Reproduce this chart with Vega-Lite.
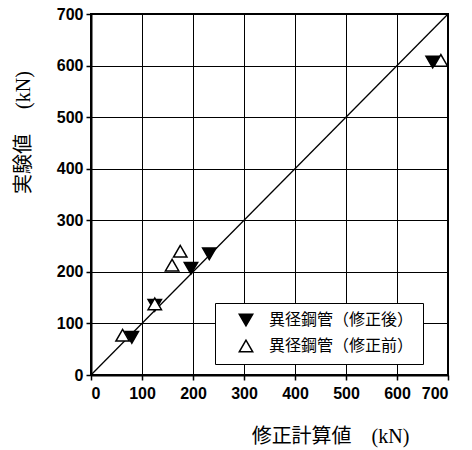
{
  "$schema": "https://vega.github.io/schema/vega-lite/v6.json",
  "width": 357,
  "height": 361,
  "autosize": {"type": "none"},
  "padding": {"left": 91, "top": 14, "right": 24, "bottom": 75},
  "background": "white",
  "config": {
    "view": {"stroke": "black", "strokeWidth": 2},
    "font": "Liberation Sans"
  },
  "datasets": {
    "pts": [
      {"calc": 80, "exp": 73, "series": "異径鋼管（修正後）"},
      {"calc": 125, "exp": 135, "series": "異径鋼管（修正後）"},
      {"calc": 196, "exp": 207, "series": "異径鋼管（修正後）"},
      {"calc": 232, "exp": 235, "series": "異径鋼管（修正後）"},
      {"calc": 670, "exp": 607, "series": "異径鋼管（修正後）"},
      {"calc": 62, "exp": 77, "series": "異径鋼管（修正前）"},
      {"calc": 125, "exp": 138, "series": "異径鋼管（修正前）"},
      {"calc": 159, "exp": 213, "series": "異径鋼管（修正前）"},
      {"calc": 175, "exp": 240, "series": "異径鋼管（修正前）"},
      {"calc": 686, "exp": 610, "series": "異径鋼管（修正前）"}
    ],
    "diag": [
      {"calc": 0, "exp": 0},
      {"calc": 700, "exp": 700}
    ]
  },
  "layer": [
    {
      "data": {"name": "diag"},
      "mark": {"type": "line", "color": "black", "strokeWidth": 1.3, "clip": true},
      "encoding": {
        "x": {
          "field": "calc", "type": "quantitative",
          "scale": {"domain": [0, 700], "nice": false},
          "axis": {
            "values": [0, 50, 100, 150, 200, 250, 300, 350, 400, 450, 500, 550, 600, 650, 700],
            "labelExpr": "datum.value % 100 == 0 ? datum.label : ''",
            "grid": true,
            "gridColor": {"condition": {"test": "datum.value % 100 != 0", "value": "transparent"}, "value": "black"},
            "gridWidth": 1,
            "gridOpacity": 1,
            "domainColor": "black",
            "domainWidth": 2,
            "tickColor": "black",
            "tickWidth": 1.5,
            "tickSize": {"condition": {"test": "datum.value % 100 != 0", "value": 3}, "value": 5},
            "labelFont": "Liberation Sans",
            "labelFontSize": 16,
            "labelFontWeight": "bold",
            "labelColor": "black",
            "labelPadding": 5,
            "title": "修正計算値　(kN)",
            "titleFont": "Liberation Serif, Noto Sans CJK JP",
            "titleFontSize": 20,
            "titleFontWeight": "normal",
            "titleColor": "black",
            "titleX": 239,
            "titleY": 51,
            "titleBaseline": "top",
            "titleAlign": "center"
          }
        },
        "y": {
          "field": "exp", "type": "quantitative",
          "scale": {"domain": [0, 700], "nice": false},
          "axis": {
            "values": [0, 50, 100, 150, 200, 250, 300, 350, 400, 450, 500, 550, 600, 650, 700],
            "labelExpr": "datum.value % 100 == 0 ? datum.label : ''",
            "grid": true,
            "gridColor": {"condition": {"test": "datum.value % 100 != 0", "value": "transparent"}, "value": "black"},
            "gridWidth": 1,
            "gridOpacity": 1,
            "domainColor": "black",
            "domainWidth": 2,
            "tickColor": "black",
            "tickWidth": 1.5,
            "tickSize": {"condition": {"test": "datum.value % 100 != 0", "value": 3}, "value": 5},
            "labelFont": "Liberation Sans",
            "labelFontSize": 16,
            "labelFontWeight": "bold",
            "labelColor": "black",
            "labelPadding": 3,
            "title": "実験値　 (kN)",
            "titleFont": "Liberation Serif, Noto Sans CJK JP",
            "titleFontSize": 20,
            "titleFontWeight": "normal",
            "titleColor": "black",
            "titleX": -68,
            "titleY": 118,
            "titleAngle": -90,
            "titleBaseline": "middle",
            "titleAlign": "center"
          }
        }
      }
    },
    {
      "data": {"name": "pts"},
      "mark": {"type": "point", "filled": false, "color": "black", "size": 180, "strokeWidth": 1.5, "opacity": 1},
      "encoding": {
        "x": {"field": "calc", "type": "quantitative"},
        "y": {"field": "exp", "type": "quantitative"},
        "shape": {
          "field": "series", "type": "nominal",
          "scale": {"domain": ["異径鋼管（修正後）", "異径鋼管（修正前）"], "range": ["triangle-down", "triangle-up"]},
          "legend": {
            "title": null,
            "orient": "none",
            "legendX": 124,
            "legendY": 289,
            "fillColor": "white",
            "strokeColor": "black",
            "padding": 9,
            "rowPadding": 8,
            "symbolSize": 180,
            "symbolStrokeWidth": 1.5,
            "symbolOffset": 14,
            "labelOffset": 15,
            "labelFont": "Liberation Serif, Noto Sans CJK JP",
            "labelFontSize": 16,
            "labelColor": "black",
            "labelLimit": 300
          }
        },
        "fill": {
          "field": "series", "type": "nominal",
          "scale": {"domain": ["異径鋼管（修正後）", "異径鋼管（修正前）"], "range": ["black", "white"]},
          "legend": {
            "title": null,
            "orient": "none",
            "legendX": 124,
            "legendY": 289,
            "fillColor": "white",
            "strokeColor": "black",
            "padding": 9,
            "rowPadding": 8,
            "symbolSize": 180,
            "symbolStrokeWidth": 1.5,
            "symbolOffset": 14,
            "labelOffset": 15,
            "labelFont": "Liberation Serif, Noto Sans CJK JP",
            "labelFontSize": 16,
            "labelColor": "black",
            "labelLimit": 300
          }
        }
      }
    }
  ]
}
